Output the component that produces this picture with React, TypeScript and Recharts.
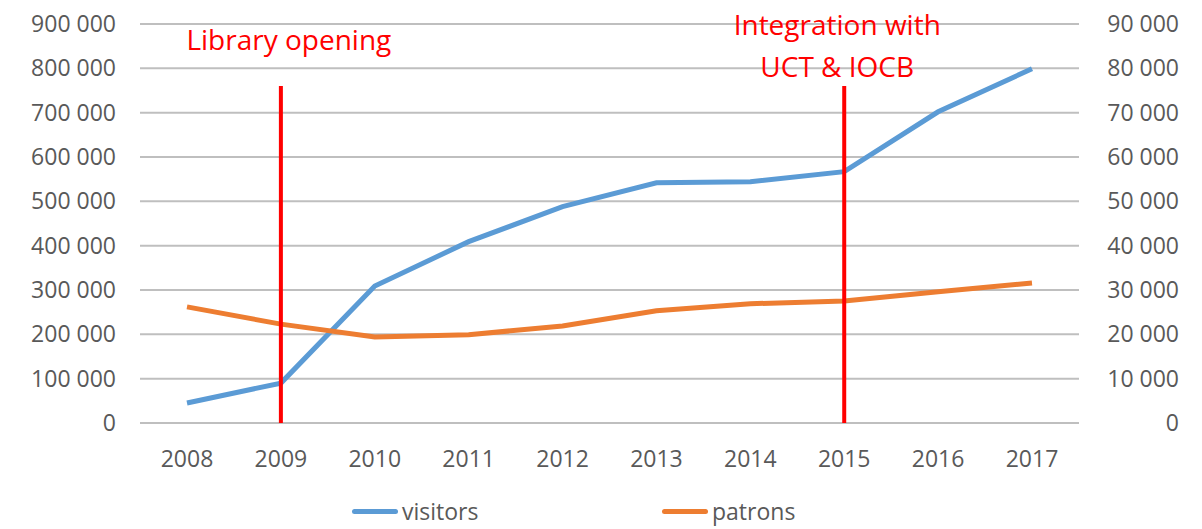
import React from 'react'
import { LineChart, Line, XAxis, YAxis, CartesianGrid, ReferenceLine, Legend } from 'recharts'

const years = ['2008', '2009', '2010', '2011', '2012', '2013', '2014', '2015', '2016', '2017']
const visitors = [45000, 90000, 309000, 409000, 488000, 542000, 544000, 567000, 702000, 799000]
const patrons = [26200, 22300, 19400, 19900, 21900, 25300, 26900, 27500, 29600, 31600]
const leftTicks = [0, 100000, 200000, 300000, 400000, 500000, 600000, 700000, 800000, 900000]
const rightTicks = [0, 10000, 20000, 30000, 40000, 50000, 60000, 70000, 80000, 90000]
const seriesOrder = ['visitors', 'patrons']
const events = [
  { year: '2009', top: 760000, lines: ['Library opening'], dx: 8, dy: [-36] },
  { year: '2015', top: 760000, lines: ['Integration with', 'UCT & IOCB'], dx: -7, dy: [-51, -9] }
]

const data = years.map((y, i) => ({ year: y, visitors: visitors[i], patrons: patrons[i] }))

const fmt = (v: number) => v.toLocaleString('en-US').replace(/,/g, ' ')
const FONT = '"Open Sans", sans-serif'
const GREY = '#595959'

const RightTick = (props: any) => {
  const { x, y, payload } = props
  return (
    <text x={x + 100} y={y} dy={8} textAnchor="end" fill={GREY} fontSize={23} fontFamily={FONT}>
      {fmt(payload.value)}
    </text>
  )
}

const EventLabel = (props: any) => {
  const { viewBox, lines, dx, dy } = props
  if (!viewBox) return null
  const cx = viewBox.x + dx
  return (
    <g>
      {lines.map((t: string, i: number) => (
        <text key={i} x={cx} y={viewBox.y + dy[i]} textAnchor="middle" fill="#ff0000" fontSize={28} fontFamily={FONT}>
          {t}
        </text>
      ))}
    </g>
  )
}

const LegendBox = (props: any) => {
  const items = [...(props.payload || [])].sort(
    (a: any, b: any) => seriesOrder.indexOf(a.value) - seriesOrder.indexOf(b.value)
  )
  const lefts = [352, 662]
  return (
    <div style={{ position: 'relative', width: 1202, height: 46 }}>
      {items.map((p: any, i: number) => (
        <div
          key={p.value}
          style={{ position: 'absolute', left: lefts[i], top: 14, display: 'flex', alignItems: 'center', fontFamily: FONT, fontSize: 23, lineHeight: '28px', color: GREY }}
        >
          <span style={{ display: 'inline-block', width: 46, height: 5, borderRadius: 3, background: p.color, marginRight: 4 }} />
          <span>{p.value}</span>
        </div>
      ))}
    </div>
  )
}

export default function App() {
  return (
    <div style={{ position: 'absolute', left: 0, top: 0 }}>
      <LineChart width={1202} height={529} data={data} margin={{ top: 24, right: 0, bottom: 0, left: 0 }} style={{ fontFamily: FONT }}>
        <CartesianGrid vertical={false} stroke="#bfbfbf" strokeWidth={2} yAxisId="left" />
        <XAxis
          dataKey="year"
          height={60}
          padding={{ left: 47, right: 47 }}
          axisLine={false}
          tickLine={false}
          tickSize={0}
          tickMargin={28}
          tick={{ fill: GREY, fontSize: 23, fontFamily: FONT }}
          interval={0}
        />
        <YAxis
          yAxisId="left"
          width={140}
          domain={[0, 900000]}
          ticks={leftTicks}
          tickFormatter={fmt}
          axisLine={false}
          tickLine={false}
          tickSize={0}
          tickMargin={24}
          tick={{ fill: GREY, fontSize: 23, fontFamily: FONT }}
          interval={0}
        />
        <YAxis
          yAxisId="right"
          orientation="right"
          width={123}
          domain={[0, 90000]}
          ticks={rightTicks}
          axisLine={false}
          tickLine={false}
          tickSize={0}
          tickMargin={0}
          tick={<RightTick />}
          interval={0}
        />
        <Legend height={46} content={<LegendBox />} wrapperStyle={{ left: 0, width: 1202 }} />
        <Line yAxisId="left" dataKey="visitors" stroke="#5b9bd5" strokeWidth={5} dot={false} activeDot={false} isAnimationActive={false} />
        <Line yAxisId="right" dataKey="patrons" stroke="#ed7d31" strokeWidth={5} dot={false} activeDot={false} isAnimationActive={false} />
        {events.map((e) => (
          <ReferenceLine
            key={e.year}
            yAxisId="left"
            segment={[{ x: e.year, y: 0 }, { x: e.year, y: e.top }]}
            stroke="#ff0000"
            strokeWidth={4}
            label={<EventLabel lines={e.lines} dx={e.dx} dy={e.dy} />}
          />
        ))}
      </LineChart>
    </div>
  )
}
